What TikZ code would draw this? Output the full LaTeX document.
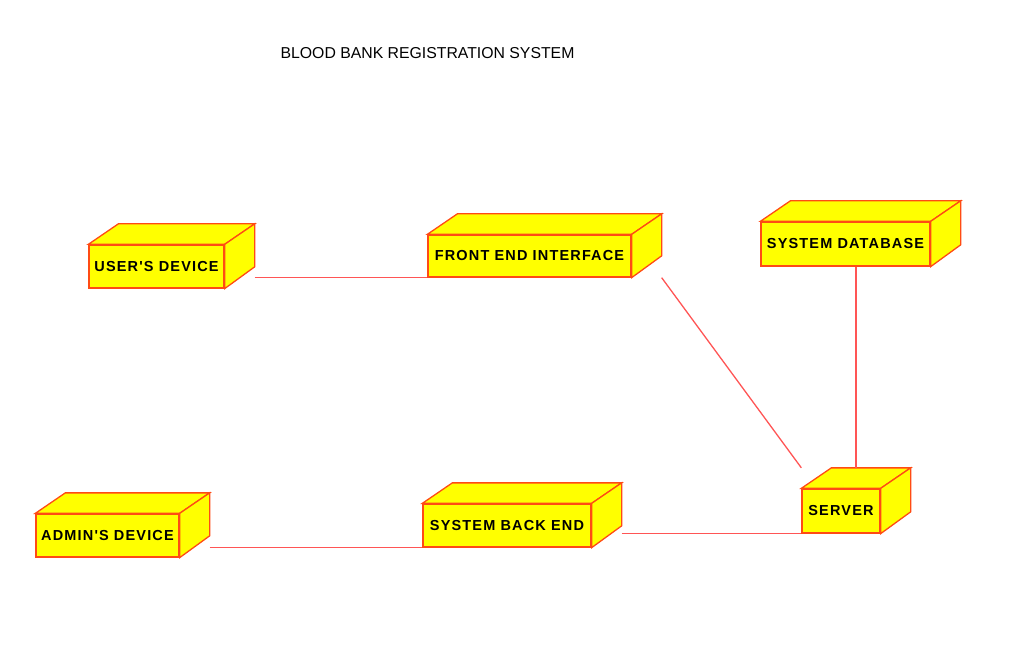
\documentclass[tikz,border=0pt]{standalone}
\usepackage{fontspec}
\setmainfont{Liberation Sans}
\newfontfamily\lblfont[LetterSpace=8]{Liberation Sans}
\usetikzlibrary{calc}
\definecolor{boxfill}{RGB}{255,255,0}
\definecolor{boxline}{RGB}{255,75,20}
\definecolor{connline}{RGB}{255,85,85}
\tikzset{
  front/.style={draw=boxline, fill=boxfill, line width=1.3pt, inner sep=0pt,
    font=\lblfont\fontsize{14.5}{16}\selectfont\bfseries},
  side/.style={draw=boxline, fill=boxfill, line width=1.3pt, line join=miter},
  conn/.style={draw=connline, line width=1.3pt},
}
% \cubenode{name}{center}{width}{height}{text}
\newcommand{\cubenode}[5]{%
  \node[front, minimum width=#3pt, minimum height=#4pt] (#1) at (#2) {};
  \coordinate (#1-b) at ($(#1.north east)+(30,-20.5)$);
  \filldraw[side] (#1.north west) -- ++(30,-20.5) -- (#1-b) -- (#1.north east) -- cycle;
  \filldraw[side] (#1.north east) -- (#1-b) -- ++(0,#4) -- (#1.south east) -- cycle;
  \node[front, draw=none, fill=none] at (#1.center) {#5};
}
\begin{document}
\begin{tikzpicture}[x=1pt, y=-1pt]
\useasboundingbox (0,0) rectangle (1010,655);
\node[font=\fontsize{15.8}{18}\selectfont] (title) at (427.5,53) {BLOOD BANK REGISTRATION SYSTEM};

\cubenode{ud}{156.5,266.5}{135}{43}{USER'S DEVICE}
\cubenode{fe}{529.5,256}{203}{42}{FRONT END INTERFACE}
\cubenode{db}{845.5,244}{169}{44}{SYSTEM DATABASE}
\cubenode{sv}{841,511}{78}{44}{SERVER}
\cubenode{ad}{107.5,535.5}{143}{43}{ADMIN'S DEVICE}
\cubenode{be}{507,525.5}{168}{43}{SYSTEM BACK END}

\draw[conn] (ud-b |- fe.south) -- (fe.south west);
\draw[conn] (fe-b |- fe.south) -- (sv.west |- sv-b);
\coordinate (svmid) at ($(sv.north west)!0.5!(sv-b)$);
\draw[conn] (svmid |- db.south) -- (svmid |- sv-b);
\draw[conn] (be-b |- sv.south) -- (sv.south west);
\draw[conn] (ad-b |- be.south) -- (be.south west);
\end{tikzpicture}
\end{document}
